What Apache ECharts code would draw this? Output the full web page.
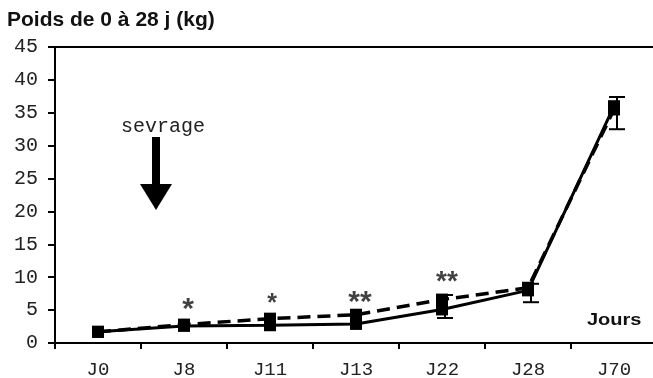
<!DOCTYPE html>
<html><head><meta charset="utf-8">
<script src="https://cdn.jsdelivr.net/npm/echarts@6/dist/echarts.min.js"></script>
<style>html,body{margin:0;padding:0;background:#fff}#c{width:653px;height:378px}</style>
</head><body><div id="c"></div>
<script>
const categories = ['J0','J8','J11','J13','J22','J28','J70'];
const solidValues = [1.7, 2.6, 2.7, 2.9, 5.1, 8.0, 36.0];
const dashedValues = [1.7, 2.8, 3.7, 4.3, 6.6, 8.4, 35.5];
const errLow = [null, null, null, null, 3.8, 6.2, 32.5];
const errHigh = [null, null, null, null, 7.3, 9.0, 37.4];
const starLabels = ['', '*', '*', '**', '**', '', ''];
const starY = [null, 6.16, 6.84, 7.15, 10.1, null, null];
const yTicks = {min: 0, max: 45, interval: 5};
const title = 'Poids de 0 à 28 j (kg)';

const chart = echarts.init(document.getElementById('c'), null, {renderer: 'canvas'});
const errData = [];
categories.forEach((c, i) => { if (errLow[i] != null) errData.push([i, errLow[i], errHigh[i]]); });
const starSizes = [0, 30, 25, 30, 28, 0, 0];
const starDx = [0, 4, 2, 4, 5, 0, 0];
const starData = [];
categories.forEach((c, i) => {
  if (starLabels[i]) starData.push({value: [i, starY[i]], name: starLabels[i],
    label: {fontSize: starSizes[i], offset: [starDx[i], Math.round(starSizes[i] * 0.22)]}});
});

const mono = 'Liberation Mono';
chart.setOption({
  animation: false,
  backgroundColor: '#fff',
  grid: {left: 55, right: -4, top: 47, bottom: 35, containLabel: false, outerBoundsMode: 'none'},
  xAxis: [{
    type: 'category', data: categories, boundaryGap: true,
    axisLine: {lineStyle: {color: '#000', width: 2}},
    axisTick: {show: true, interval: 0, length: 6, lineStyle: {color: '#000', width: 2}},
    axisLabel: {fontFamily: mono, fontSize: 19, color: '#222', margin: 17, interval: 0}
  }, {
    type: 'category', data: categories, position: 'top',
    axisLine: {lineStyle: {color: '#000', width: 2}},
    axisTick: {show: false}, axisLabel: {show: false}
  }],
  yAxis: {
    type: 'value', min: yTicks.min, max: yTicks.max, interval: yTicks.interval,
    axisLine: {show: true, lineStyle: {color: '#000', width: 2}},
    axisTick: {show: true, length: 7, lineStyle: {color: '#000', width: 2}},
    axisLabel: {fontFamily: mono, fontSize: 20, color: '#222', margin: 17},
    splitLine: {show: false}
  },
  series: [
    {type: 'line', data: dashedValues, symbol: 'rect', symbolSize: 12,
     lineStyle: {color: '#000', width: 3.5, type: [13, 7]}, itemStyle: {color: '#000'}, z: 3},
    {type: 'line', data: solidValues, symbol: 'rect', symbolSize: 12,
     lineStyle: {color: '#000', width: 3}, itemStyle: {color: '#000'}, z: 4},
    {type: 'custom', data: errData, z: 5,
     renderItem: function (params, api) {
       const lo = api.coord([api.value(0), api.value(1)]);
       const hi = api.coord([api.value(0), api.value(2)]);
       const x = lo[0] + 3, w = 8;
       const st = {stroke: '#000', lineWidth: 2};
       return {type: 'group', children: [
         {type: 'line', shape: {x1: x, y1: lo[1], x2: x, y2: hi[1]}, style: st},
         {type: 'line', shape: {x1: x - w, y1: lo[1], x2: x + w, y2: lo[1]}, style: st},
         {type: 'line', shape: {x1: x - w, y1: hi[1], x2: x + w, y2: hi[1]}, style: st}
       ]};
     }},
    {type: 'scatter', data: starData, symbolSize: 0, z: 6,
     label: {show: true, position: 'inside', formatter: p => p.name, fontWeight: 'bold',
             fontFamily: 'Liberation Sans', color: '#111', verticalAlign: 'middle', align: 'center'}}
  ],
  graphic: [
    {type: 'text', left: 7, top: 10, style: {text: title, font: 'bold 21px "Liberation Sans"', fill: '#111'}},
    {type: 'text', x: 163, y: 127, style: {text: 'sevrage', font: '20px "Liberation Mono"', fill: '#222', textAlign: 'center', textVerticalAlign: 'middle'}},
    {type: 'rect', shape: {x: 152, y: 137, width: 8, height: 49}, style: {fill: '#000'}},
    {type: 'polygon', shape: {points: [[140, 184], [172, 184], [156, 210]]}, style: {fill: '#000'}},
    {type: 'text', x: 587, y: 321, scaleX: 1.25, style: {text: 'Jours', font: 'bold 16px "Liberation Sans"', fill: '#111', textVerticalAlign: 'middle'}}
  ]
});
</script></body></html>
